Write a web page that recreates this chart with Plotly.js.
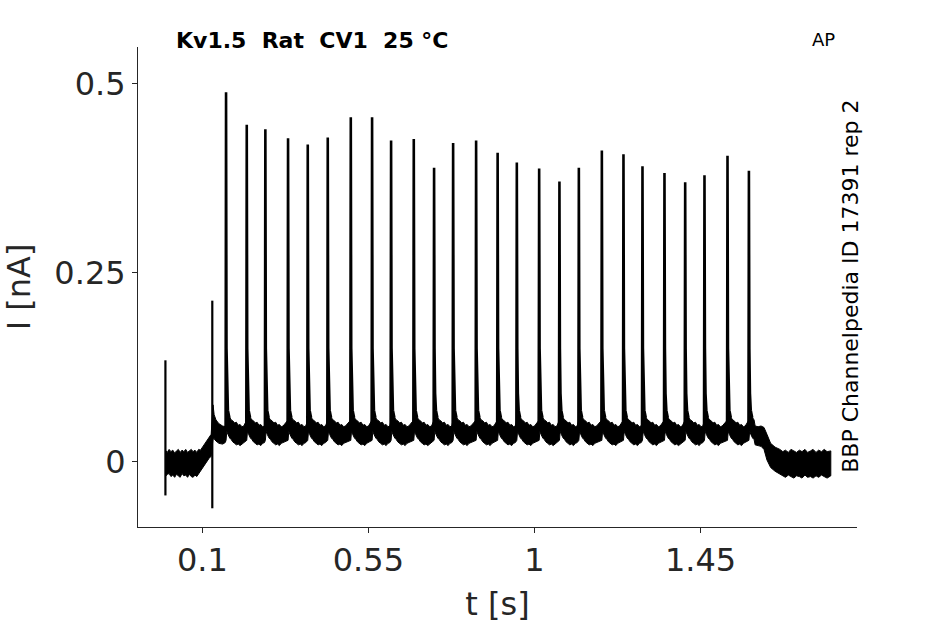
<!DOCTYPE html>
<html><head><meta charset="utf-8">
<script src="https://cdn.plot.ly/plotly-3.0.1.min.js"></script>
<style>html,body{margin:0;padding:0;background:#fff}</style>
</head><body><div id="chart" style="width:945px;height:624px"></div>
<script>
// ---- Data (t in s, I in nA) ----
// Spike (AP-evoked current) times and peak amplitudes
const spikeTimes = [0.1643,0.2204,0.2708,0.3323,0.3857,0.4399,0.5023,0.5600,0.6115,0.6730,0.7280,0.7796,0.8419,0.9002,0.9522,1.0127,1.0677,1.1203,1.1826,1.2412,1.2927,1.3523,1.4084,1.4607,1.5231,1.5811];
const spikePeaks = [0.489,0.446,0.440,0.428,0.420,0.429,0.456,0.456,0.425,0.427,0.389,0.422,0.425,0.409,0.396,0.388,0.371,0.389,0.412,0.407,0.391,0.382,0.370,0.379,0.405,0.385];
// Typical spike flanks (time offsets from a peak, current values)
const spikeLeadDt = [-0.0012];
const spikeLeadI  = [0.045];
const spikeTailDt = [0.0012, 0.0028, 0.005, 0.009];
const spikeTailI  = [0.150, 0.090, 0.068, 0.058];
// Capacitive artifacts
const artifactTimes = [0.000, 0.127];
const artifactMax   = [0.134, 0.213];
const artifactMin   = [-0.045, -0.062];
// Noise band (upper / lower envelope) before the train
const preT  = [0.000,0.005,0.010,0.015,0.020,0.025,0.030,0.035,0.040,0.045,0.050,0.055,0.060,0.065,0.070,0.075,0.080,0.085,0.090,0.095,0.102,0.110,0.118,0.124];
const preUp = [0.015,0.012,0.016,0.013,0.015,0.011,0.014,0.016,0.012,0.015,0.013,0.016,0.012,0.014,0.016,0.013,0.015,0.012,0.016,0.015,0.020,0.026,0.033,0.036];
const preLo = [-0.020,-0.017,-0.016,-0.020,-0.018,-0.021,-0.017,-0.019,-0.021,-0.016,-0.019,-0.018,-0.021,-0.017,-0.020,-0.021,-0.018,-0.020,-0.016,-0.014,-0.008,-0.002,0.004,0.007];
// Noise band after the second artifact, up to the first spike
const artT  = [0.129,0.132,0.137,0.145,0.155,0.162];
const artUp = [0.075,0.062,0.055,0.050,0.047,0.046];
const artLo = [0.030,0.030,0.027,0.024,0.023,0.025];
// Noise band between spikes (offsets from each spike)
const bandDt = [0.000,0.002,0.005,0.010,0.014,0.018,0.023,0.028,0.033,0.038,0.043,0.048];
const bandUp = [0.055,0.075,0.063,0.058,0.055,0.054,0.051,0.052,0.048,0.049,0.046,0.047];
const bandLo = [0.028,0.040,0.036,0.031,0.029,0.026,0.024,0.022,0.023,0.021,0.024,0.025];
// Noise band after the train
const postT  = [1.598,1.606,1.614,1.622,1.630,1.640,1.652,1.665,1.673,1.680,1.688,1.695,1.703,1.710,1.718,1.725,1.733,1.740,1.748,1.755,1.763,1.770,1.778,1.785,1.793,1.803];
const postUp = [0.047,0.046,0.047,0.045,0.036,0.024,0.019,0.016,0.013,0.015,0.012,0.016,0.014,0.012,0.015,0.013,0.016,0.012,0.014,0.016,0.012,0.015,0.013,0.016,0.013,0.014];
const postLo = [0.022,0.021,0.020,0.016,0.002,-0.008,-0.013,-0.017,-0.019,-0.021,-0.018,-0.020,-0.022,-0.019,-0.020,-0.022,-0.018,-0.021,-0.020,-0.022,-0.019,-0.021,-0.018,-0.020,-0.022,-0.019];
// Axis ticks
const xTickVals = [0.1, 0.55, 1, 1.45];
const xTickText = ['0.1','0.55','1','1.45'];
const yTickVals = [0, 0.25, 0.5];
const yTickText = ['0','0.25','0.5'];

// ---- Build traces ----
const bT = [], bU = [], bL = [];
preT.forEach((t,i)=>{bT.push(t); bU.push(preUp[i]); bL.push(preLo[i]);});
artT.forEach((t,i)=>{bT.push(t); bU.push(artUp[i]); bL.push(artLo[i]);});
spikeTimes.forEach((t,k)=>{
  const next = k < spikeTimes.length-1 ? spikeTimes[k+1] : postT[0];
  bandDt.forEach((d,j)=>{ if (t+d < next-0.001){ bT.push(t+d); bU.push(bandUp[j]); bL.push(bandLo[j]); } });
});
postT.forEach((t,i)=>{bT.push(t); bU.push(postUp[i]); bL.push(postLo[i]);});

const bandTrace = {
  x: bT.concat(bT.slice().reverse()),
  y: bU.concat(bL.slice().reverse()),
  mode: 'lines', fill: 'toself', fillcolor: '#000',
  line: {color: '#000', width: 1}, hoverinfo: 'skip', showlegend: false
};

const sX = [], sY = [];
spikeTimes.forEach((t,k)=>{
  spikeLeadDt.forEach((d,j)=>{ sX.push(t+d); sY.push(spikeLeadI[j]); });
  sX.push(t); sY.push(spikePeaks[k]);
  spikeTailDt.forEach((d,j)=>{ sX.push(t+d); sY.push(spikeTailI[j]); });
  sX.push(null); sY.push(null);
});
const spikeTrace = {x: sX, y: sY, mode: 'lines', line: {color:'#000', width: 2.6}, showlegend: false, connectgaps: false};

const aX = [], aY = [];
artifactTimes.forEach((t,k)=>{ aX.push(t, t, null); aY.push(artifactMax[k], artifactMin[k], null); });
const artTrace = {x: aX, y: aY, mode: 'lines', line: {color:'#000', width: 2.2}, showlegend: false};

const F = 'DejaVu Sans, Liberation Sans, sans-serif';
const axisCol = '#262626';
const L = 138, R = 856.7, T = 46.7, B = 527.3;

const layout = {
  width: 945, height: 624,
  margin: {l: L, r: 945-R, t: T, b: 624-B, pad: 0},
  paper_bgcolor: '#fff', plot_bgcolor: '#fff',
  showlegend: false,
  title: {
    text: '<b>Kv1.5\u00a0 Rat\u00a0 CV1\u00a0 25 °C</b>',
    font: {family: F, size: 22, color: '#000'},
    xref: 'container', x: 176/945, xanchor: 'left',
    yref: 'container', y: 1 - 40/624, yanchor: 'middle'
  },
  xaxis: {
    range: [-0.0743, 1.874], tickmode: 'array', tickvals: xTickVals, ticktext: xTickText,
    ticks: 'outside', ticklen: 5, tickwidth: 1, tickcolor: axisCol,
    showline: true, linecolor: axisCol, linewidth: 1, mirror: false,
    showgrid: false, zeroline: false, automargin: false,
    tickfont: {family: F, size: 32, color: axisCol},
    title: {text: 't [s]', font: {family: F, size: 32, color: axisCol}, standoff: 14}
  },
  yaxis: {
    range: [-0.0868, 0.549], tickmode: 'array', tickvals: yTickVals, ticktext: yTickText,
    ticks: 'outside', ticklen: 5, tickwidth: 1, tickcolor: axisCol,
    showline: true, linecolor: axisCol, linewidth: 1, mirror: false,
    showgrid: false, zeroline: false, automargin: false,
    tickfont: {family: F, size: 32, color: axisCol},
    title: {text: 'I [nA]', font: {family: F, size: 32, color: axisCol}, standoff: 14}
  },
  annotations: [
    {text: 'AP', xref: 'paper', yref: 'paper', x: (823-L)/(R-L), y: (B-39)/(B-T),
     xanchor: 'center', yanchor: 'middle', showarrow: false, font: {family: F, size: 18, color: '#000'}},
    {text: 'BBP Channelpedia ID 17391 rep 2', xref: 'paper', yref: 'paper', x: (850-L)/(R-L), y: (B-286.5)/(B-T),
     xanchor: 'center', yanchor: 'middle', textangle: -90, showarrow: false, font: {family: F, size: 22, color: '#000'}}
  ]
};

Plotly.newPlot('chart', [bandTrace, artTrace, spikeTrace], layout, {displayModeBar: false, staticPlot: true});
</script></body></html>
